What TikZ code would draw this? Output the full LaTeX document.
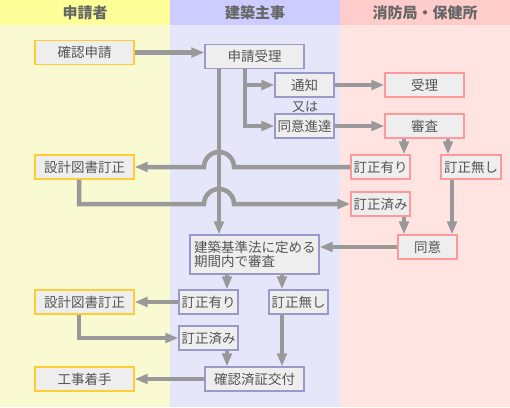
\documentclass[tikz,border=0pt]{standalone}
\usepackage{fontspec}
\setmainfont{Noto Sans CJK JP}
\usetikzlibrary{arrows.meta,calc}
\definecolor{hy}{HTML}{FFFF99}
\definecolor{hb}{HTML}{CCCCFF}
\definecolor{hp}{HTML}{FFCCCC}
\definecolor{by}{HTML}{FAFAD2}
\definecolor{bb}{HTML}{E6E6FA}
\definecolor{bp}{HTML}{FFE4E1}
\definecolor{boxfill}{HTML}{EEEEEE}
\definecolor{ly}{HTML}{FFCC33}
\definecolor{lb}{HTML}{9999CC}
\definecolor{lp}{HTML}{FF9999}
\definecolor{conn}{HTML}{999999}
\definecolor{txt}{HTML}{555555}
\definecolor{htxt}{HTML}{666666}
\tikzset{
  boxbase/.style={draw, line width=1.2pt, fill=boxfill, text=txt, inner sep=0pt,
    minimum height=24pt, font=\fontsize{13.5}{14}\selectfont},
  ybox/.style={boxbase, draw=ly, minimum width=99pt},
  bbox/.style={boxbase, draw=lb},
  pbox/.style={boxbase, draw=lp},
  conline/.style={draw=conn, line width=4.5pt},
  arr/.style={conline, -{Triangle[length=13pt,width=9.5pt]}},
  headtxt/.style={text=htxt, font=\fontsize{15}{16}\selectfont\bfseries},
}
\begin{document}
\begin{tikzpicture}[x=1pt,y=-1pt]
\useasboundingbox (0,0) rectangle (510,407);
% lanes
\fill[by] (0,25) rectangle (170,407);
\fill[bb] (170,25) rectangle (340,407);
\fill[bp] (340,25) rectangle (510,407);
\fill[hy] (0,0) rectangle (170,25);
\fill[hb] (170,0) rectangle (340,25);
\fill[hp] (340,0) rectangle (510,25);
\node[headtxt] (h1) at (85,13) {申請者};
\node[headtxt] (h2) at (255,13) {建築主事};
\node[headtxt] (h3) at (425,13) {消防局・保健所};
% nodes
\node[ybox] (req) at (84.5,52.5) {確認申請};
\node[bbox, minimum width=99pt] (acc) at (254.5,56.5) {申請受理};
\node[bbox, minimum width=59pt] (tsuchi) at (304.5,85) {通知};
\node[text=txt, font=\fontsize{13}{14}\selectfont, inner sep=0pt] (matawa) at (305,107) {又は};
\node[bbox, minimum width=59pt] (dousin) at (304.5,126) {同意進達};
\node[pbox, minimum width=79pt] (juri) at (424.5,85) {受理};
\node[pbox, minimum width=79pt] (shinsa) at (424.5,126) {審査};
\node[pbox, minimum width=59pt] (teiA) at (380.5,167) {訂正有り};
\node[pbox, minimum width=60pt] (teiN) at (471,167) {訂正無し};
\node[pbox, minimum width=59pt] (teiS) at (380.5,204) {訂正済み};
\node[pbox, minimum width=59pt] (doui) at (427.5,247) {同意};
\node[bbox, minimum width=129pt, minimum height=39pt, align=left, text width=121pt,
  font=\fontsize{13.5}{14}\selectfont] (kikan) at (254.5,254.5) {建築基準法に定める\\期間内で審査};
\node[bbox, minimum width=59pt] (teiA2) at (208.5,302) {訂正有り};
\node[bbox, minimum width=59pt] (teiN2) at (298.5,302) {訂正無し};
\node[bbox, minimum width=59pt] (teiS2) at (208.5,338) {訂正済み};
\node[bbox, minimum width=99pt] (kofu) at (254.5,379) {確認済証交付};
\node[ybox] (sekkei1) at (84.5,167) {設計図書訂正};
\node[ybox] (sekkei2) at (84.5,302) {設計図書訂正};
\node[ybox] (koji) at (84.5,379) {工事着手};
% helper x positions
\coordinate (mx) at (219,0);
\coordinate (mxl) at (204,0);
\coordinate (mxr) at (234,0);
\coordinate (bx) at (245,0);
\coordinate (s1) at (404,0);
\coordinate (s2) at (448,0);
\coordinate (s3) at (452,0);
\coordinate (sx) at (79,0);
\coordinate (k1) at (227,0);
\coordinate (k2) at (282,0);
% connectors
\draw[arr] (req.east) -- (req.east -| acc.west);
\draw[arr] (acc.south -| mx) -- (kikan.north -| mx);
\draw[arr] (acc.south -| bx) |- (dousin.west);
\draw[arr] (tsuchi.west -| bx) -- (tsuchi.west);
\draw[arr] (tsuchi.east) -- (juri.west);
\draw[arr] (dousin.east) -- (shinsa.west);
\draw[arr] (shinsa.south -| s1) -- (teiA.north -| s1);
\draw[arr] (shinsa.south -| s2) -- (teiN.north -| s2);
\draw[arr] (teiA.west) -- (teiA.west -| mxr) arc(0:-180:15) -- (sekkei1.east);
\draw[arr] (sekkei1.south -| sx) |- (teiS.west -| mxl) arc(180:360:15) -- (teiS.west);
\draw[arr] (teiS.south -| s1) -- (doui.north -| s1);
\draw[arr] (teiN.south -| s3) -- (doui.north -| s3);
\draw[arr] (doui.west) -- (doui.west -| kikan.east);
\draw[arr] (kikan.south -| k1) -- (teiA2.north -| k1);
\draw[arr] (kikan.south -| k2) -- (teiN2.north -| k2);
\draw[arr] (teiA2.west) -- (sekkei2.east);
\draw[arr] (sekkei2.south -| sx) |- (teiS2.west);
\draw[arr] (teiS2.south -| k1) -- (kofu.north -| k1);
\draw[arr] (teiN2.south -| k2) -- (kofu.north -| k2);
\draw[arr] (kofu.west) -- (koji.east);
\end{tikzpicture}
\end{document}
